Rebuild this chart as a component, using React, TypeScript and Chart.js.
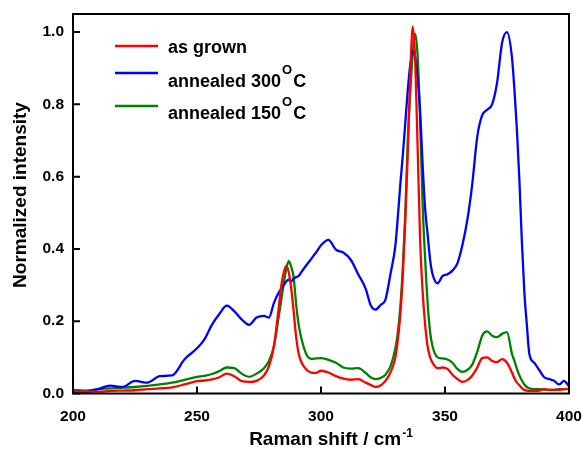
import React, { useEffect, useRef } from "react";
import { Chart, registerables } from "chart.js";

Chart.register(...registerables);

const FONT = '"Liberation Sans", Arial, Helvetica, sans-serif';

const ramanShift = [
  200, 205, 210, 215, 220, 225, 230, 235, 240, 245,
  250, 253, 256, 259, 262, 265, 268, 271, 274, 277,
  279, 281, 283, 284, 285, 286, 287, 288, 289, 290,
  291, 292, 294, 296, 298, 300, 303, 306, 309, 312,
  315, 318, 320, 322, 324, 326, 328, 330, 331, 332,
  333, 334, 335, 336, 337, 338, 339, 340, 341, 342,
  343, 344, 345, 347, 349, 351, 353, 355, 357, 359,
  361, 363, 365, 367, 369, 371, 373, 375, 377, 378,
  379, 380, 381, 382, 383, 384, 386, 388, 390, 392,
  394, 396, 398, 400,
];

const asGrown = [
  0.005, 0.005, 0.005, 0.007, 0.008, 0.009, 0.012, 0.014, 0.017, 0.025,
  0.034, 0.036, 0.039, 0.045, 0.055, 0.048, 0.034, 0.032, 0.035, 0.05,
  0.075, 0.13, 0.24, 0.3, 0.335, 0.353, 0.335, 0.29, 0.225, 0.155,
  0.11, 0.088, 0.067, 0.058, 0.057, 0.063, 0.058, 0.048, 0.041, 0.038,
  0.04, 0.03, 0.024, 0.018, 0.022, 0.035, 0.058, 0.1, 0.15, 0.22,
  0.33, 0.48, 0.67, 0.88, 1.015, 0.92, 0.67, 0.42, 0.28, 0.19,
  0.13, 0.1, 0.085, 0.07, 0.072, 0.068, 0.052, 0.04, 0.032, 0.037,
  0.05, 0.072, 0.098, 0.1, 0.09, 0.087, 0.095, 0.085, 0.058, 0.042,
  0.03, 0.023, 0.015, 0.01, 0.008, 0.007, 0.007, 0.008, 0.012, 0.01,
  0.01, 0.01, 0.012, 0.012,
];

const annealed300 = [
  0.005, 0.004, 0.012, 0.022, 0.018, 0.035, 0.03, 0.048, 0.05, 0.095,
  0.125, 0.15, 0.19, 0.22, 0.243, 0.228, 0.205, 0.19, 0.21, 0.215,
  0.21, 0.25, 0.28, 0.29, 0.3, 0.31, 0.315, 0.31, 0.318, 0.322,
  0.325, 0.335, 0.354, 0.372, 0.39, 0.41, 0.425, 0.398, 0.39, 0.37,
  0.33, 0.29, 0.245, 0.232, 0.245, 0.26, 0.33, 0.41, 0.49, 0.58,
  0.66, 0.75, 0.84, 0.91, 0.945, 0.93, 0.87, 0.777, 0.63, 0.51,
  0.44, 0.37, 0.33, 0.305, 0.325, 0.33, 0.34, 0.36, 0.41, 0.48,
  0.58, 0.71, 0.77, 0.785, 0.8, 0.86, 0.97, 1.0, 0.93, 0.84,
  0.73, 0.59, 0.42, 0.28, 0.19, 0.11, 0.085, 0.065, 0.045, 0.04,
  0.035, 0.025, 0.035, 0.02,
];

const annealed150 = [
  0.01, 0.008, 0.012, 0.014, 0.016, 0.018, 0.021, 0.025, 0.03, 0.038,
  0.046, 0.049, 0.054, 0.062, 0.072, 0.07, 0.055, 0.046, 0.055, 0.07,
  0.09, 0.13, 0.215, 0.26, 0.305, 0.345, 0.366, 0.35, 0.32, 0.245,
  0.19, 0.155, 0.11, 0.096, 0.097, 0.098, 0.093, 0.085, 0.072, 0.069,
  0.07, 0.057, 0.045, 0.04, 0.043, 0.052, 0.075, 0.125, 0.17, 0.24,
  0.35, 0.5, 0.7, 0.832, 0.94, 0.995, 0.93, 0.75, 0.52, 0.372,
  0.25, 0.17, 0.13, 0.1, 0.097, 0.094, 0.085, 0.068, 0.06, 0.065,
  0.08, 0.115, 0.16, 0.172, 0.16, 0.156, 0.165, 0.17, 0.11, 0.09,
  0.068, 0.05, 0.036, 0.025, 0.018, 0.014, 0.012, 0.012, 0.011, 0.01,
  0.01, 0.012, 0.012, 0.013,
];

const seriesLabels = ["as grown", "annealed 300", "annealed 150"];
const seriesSup = ["", "O", "O"];
const seriesAfter = ["", "C", "C"];
const seriesColors = ["#ff0000", "#0000ff", "#008000"];

const xTickValues = [200, 250, 300, 350, 400];
const yTickValues = [0, 0.2, 0.4, 0.6, 0.8, 1.0];

export default function App() {
  const ref = useRef<HTMLCanvasElement>(null);

  useEffect(() => {
    if (!ref.current) return;
    const toPts = (ys: number[]) => ramanShift.map((x, i) => ({ x, y: ys[i] }));

    const decor = {
      id: "decor",
      afterDraw(chart: any) {
        const { ctx, chartArea: a, scales } = chart;
        ctx.save();
        ctx.strokeStyle = "#000";
        ctx.lineWidth = 2;
        ctx.strokeRect(a.left, a.top, a.right - a.left, a.bottom - a.top);
        ctx.beginPath();
        xTickValues.forEach((v) => {
          const px = scales.x.getPixelForValue(v);
          ctx.moveTo(px, a.bottom);
          ctx.lineTo(px, a.bottom - 7);
        });
        yTickValues.forEach((v) => {
          const py = scales.y.getPixelForValue(v);
          ctx.moveTo(a.left, py);
          ctx.lineTo(a.left + 7, py);
        });
        ctx.stroke();

        ctx.fillStyle = "#000";
        ctx.save();
        ctx.translate(26, 195);
        ctx.rotate(-Math.PI / 2);
        ctx.font = `bold 19px ${FONT}`;
        ctx.textAlign = "center";
        ctx.textBaseline = "alphabetic";
        ctx.fillText("Normalized intensity", 0, 0);
        ctx.restore();

        const main = "Raman shift / cm";
        const sup = "-1";
        ctx.font = `bold 19px ${FONT}`;
        const wMain = ctx.measureText(main).width;
        ctx.font = `bold 12px ${FONT}`;
        const wSup = ctx.measureText(sup).width;
        const cx = (a.left + a.right) / 2 + 10;
        const x0 = cx - (wMain + wSup + 1) / 2;
        ctx.textAlign = "left";
        ctx.textBaseline = "alphabetic";
        ctx.font = `bold 19px ${FONT}`;
        ctx.fillText(main, x0, 445);
        ctx.font = `bold 12px ${FONT}`;
        ctx.fillText(sup, x0 + wMain + 1, 437);

        const lineYs = [46, 73, 106];
        const baseYs = [53, 87, 119];
        for (let i = 0; i < seriesLabels.length; i++) {
          ctx.strokeStyle = seriesColors[i];
          ctx.lineWidth = 2.5;
          ctx.beginPath();
          ctx.moveTo(115, lineYs[i]);
          ctx.lineTo(158, lineYs[i]);
          ctx.stroke();
          ctx.fillStyle = "#000";
          ctx.font = `bold 18px ${FONT}`;
          ctx.fillText(seriesLabels[i], 168, baseYs[i]);
          let xx = 168 + ctx.measureText(seriesLabels[i]).width + 1;
          if (seriesSup[i]) {
            ctx.font = `bold 13px ${FONT}`;
            ctx.fillText(seriesSup[i], xx, baseYs[i] - 13);
            xx += ctx.measureText(seriesSup[i]).width + 1;
            ctx.font = `bold 18px ${FONT}`;
            ctx.fillText(seriesAfter[i], xx, baseYs[i]);
          }
        }
        ctx.restore();
      },
    };

    const chart = new Chart(ref.current, {
      type: "line",
      data: {
        datasets: [asGrown, annealed300, annealed150].map((ys, i) => ({
          label: seriesLabels[i],
          data: toPts(ys),
          borderColor: seriesColors[i],
          backgroundColor: seriesColors[i],
          borderWidth: 2.3,
          pointRadius: 0,
          fill: false,
          cubicInterpolationMode: "monotone" as const,
        })),
      },
      options: {
        responsive: false,
        animation: false,
        layout: { padding: { left: 0, top: 14, right: 14, bottom: 0 } },
        plugins: {
          legend: { display: false },
          tooltip: { enabled: false },
          title: { display: false },
        },
        scales: {
          x: {
            type: "linear",
            min: 200,
            max: 400,
            grid: { display: false, drawTicks: false },
            border: { display: false },
            afterBuildTicks: (s: any) => {
              s.ticks = xTickValues.map((v) => ({ value: v }));
            },
            afterFit: (s: any) => {
              s.height = 63.5;
              s.paddingLeft = 0;
              s.paddingRight = 0;
            },
            ticks: {
              padding: 14,
              color: "#000",
              font: { family: FONT, size: 15.5, weight: "bold" },
              callback: (v: any) => String(v),
              maxRotation: 0,
            },
          },
          y: {
            type: "linear",
            min: 0,
            max: 1.05,
            grid: { display: false, drawTicks: false },
            border: { display: false },
            afterBuildTicks: (s: any) => {
              s.ticks = yTickValues.map((v) => ({ value: v }));
            },
            afterFit: (s: any) => {
              s.width = 73;
              s.paddingTop = 0;
              s.paddingBottom = 0;
            },
            ticks: {
              padding: 9,
              color: "#000",
              font: { family: FONT, size: 15.5, weight: "bold" },
              callback: (v: any) => Number(v).toFixed(1),
            },
          },
        },
      },
      plugins: [decor],
    });
    return () => chart.destroy();
  }, []);

  return (
    <div style={{ position: "absolute", left: 0, top: 0, width: 583, height: 457 }}>
      <canvas ref={ref} width={583} height={457} style={{ display: "block" }} />
    </div>
  );
}
